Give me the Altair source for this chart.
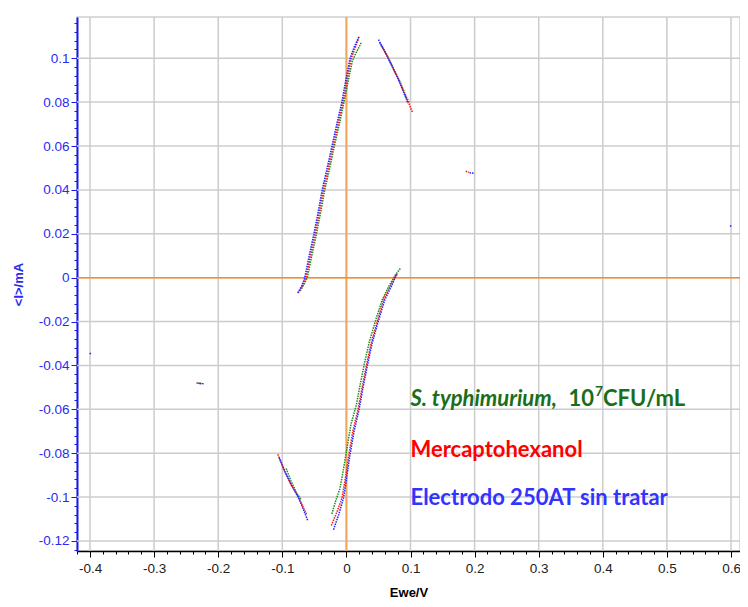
import altair as alt
import pandas as pd

# ---------------- data ----------------
# Blue: Electrodo 250AT sin tratar
blue_up_x = [-0.076, -0.070, -0.065, -0.058, -0.051, -0.044, -0.038, -0.030, -0.0227, -0.015, -0.0073, -0.001, 0.0057, 0.012, 0.019]
blue_up_y = [-0.007, -0.004, 0.000, 0.010, 0.0195, 0.030, 0.0397, 0.050, 0.0597, 0.070, 0.0797, 0.090, 0.0999, 0.105, 0.1095]
blue_dn_x = [0.050, 0.060, 0.070, 0.080, 0.090, 0.096]
blue_dn_y = [0.1085, 0.103, 0.097, 0.091, 0.084, 0.0795]
blue_lo_x = [-0.0201, -0.012, -0.0046, 0.000, 0.0057, 0.012, 0.0196, 0.026, 0.0325, 0.040, 0.0495, 0.060, 0.070, 0.078]
blue_lo_y = [-0.1149, -0.108, -0.1005, -0.092, -0.0805, -0.070, -0.0603, -0.050, -0.0403, -0.030, -0.0201, -0.010, -0.004, 0.0014]
blue_left_x = [-0.105, -0.095, -0.085, -0.075, -0.068, -0.060]
blue_left_y = [-0.082, -0.089, -0.095, -0.100, -0.105, -0.111]
blue_pts_x = [[0.192, 0.200], [-0.229, -0.222], [-0.400, -0.399], [0.599, 0.600]]
blue_pts_y = [[0.0478, 0.0475], [-0.0482, -0.0484], [-0.0343, -0.0350], [0.0232, 0.0238]]

# Red: Mercaptohexanol
red_up_x = [-0.075, -0.069, -0.063, -0.056, -0.049, -0.042, -0.036, -0.028, -0.0207, -0.013, -0.0055, 0.001, 0.0075, 0.014, 0.020]
red_up_y = [-0.007, -0.004, 0.000, 0.010, 0.0195, 0.030, 0.0397, 0.050, 0.0597, 0.070, 0.0797, 0.090, 0.0999, 0.105, 0.1100]
red_dn_x = [0.052, 0.062, 0.072, 0.082, 0.092, 0.098, 0.103]
red_dn_y = [0.107, 0.102, 0.096, 0.090, 0.083, 0.079, 0.0753]
red_lo_x = [-0.0237, -0.015, -0.007, -0.002, 0.004, 0.010, 0.018, 0.0245, 0.031, 0.0385, 0.048, 0.058, 0.068, 0.080]
red_lo_y = [-0.113, -0.107, -0.1005, -0.092, -0.0805, -0.070, -0.0603, -0.050, -0.0403, -0.030, -0.0201, -0.010, -0.004, 0.002]
red_left_x = [-0.107, -0.097, -0.087, -0.077, -0.070, -0.062]
red_left_y = [-0.0805, -0.088, -0.094, -0.099, -0.103, -0.108]
red_pts_x = [[0.186, 0.191], [-0.234, -0.228]]
red_pts_y = [[0.0485, 0.0480], [-0.0480, -0.0482]]

# Green: S. typhimurium, 10^7 CFU/mL
green_up_x = [-0.072, -0.066, -0.061, -0.054, -0.047, -0.040, -0.034, -0.026, -0.0190, -0.011, -0.0040, 0.003, 0.0095, 0.016, 0.023]
green_up_y = [-0.006, -0.003, 0.000, 0.010, 0.0195, 0.030, 0.0397, 0.050, 0.0597, 0.070, 0.0797, 0.090, 0.0990, 0.103, 0.1070]
green_dn_x = [0.054, 0.064, 0.074, 0.084, 0.094, 0.098]
green_dn_y = [0.106, 0.101, 0.095, 0.089, 0.082, 0.080]
green_lo_x = [-0.0227, -0.017, -0.010, -0.005, 0.001, 0.007, 0.0155, 0.022, 0.0285, 0.036, 0.046, 0.056, 0.066, 0.076, 0.085]
green_lo_y = [-0.1077, -0.102, -0.096, -0.088, -0.0775, -0.067, -0.0580, -0.048, -0.0385, -0.029, -0.0190, -0.010, -0.004, 0.001, 0.0045]
green_left_x = [-0.094, -0.086, -0.078, -0.071]
green_left_y = [-0.087, -0.093, -0.098, -0.101]
green_pts_x = [[-0.232, -0.226]]
green_pts_y = [[-0.0481, -0.0483]]

S_GREEN = "S. typhimurium, 10^7 CFU/mL"
S_RED = "Mercaptohexanol"
S_BLUE = "Electrodo 250AT sin tratar"

x_ticks = [-0.4, -0.3, -0.2, -0.1, 0, 0.1, 0.2, 0.3, 0.4, 0.5, 0.6]
y_ticks = [-0.12, -0.1, -0.08, -0.06, -0.04, -0.02, 0, 0.02, 0.04, 0.06, 0.08, 0.1]
x_minor = [round(-0.42 + 0.02 * i, 2) for i in range(52)]
y_minor = [round(-0.124 + 0.004 * i, 3) for i in range(61)]

# ---------------- build table ----------------
rows = []
def add(series, order, segs):
    for k, (xs, ys) in enumerate(segs):
        for i, (xx, yy) in enumerate(zip(xs, ys)):
            rows.append({"x": xx, "y": yy, "series": series, "seg": f"{series}-{k}", "o": order, "i": i})

add(S_GREEN, 0, [(green_up_x, green_up_y), (green_dn_x, green_dn_y), (green_lo_x, green_lo_y),
                 (green_left_x, green_left_y)] + list(zip(green_pts_x, green_pts_y)))
add(S_RED, 1, [(red_up_x, red_up_y), (red_dn_x, red_dn_y), (red_lo_x, red_lo_y),
               (red_left_x, red_left_y)] + list(zip(red_pts_x, red_pts_y)))
add(S_BLUE, 2, [(blue_up_x, blue_up_y), (blue_dn_x, blue_dn_y), (blue_lo_x, blue_lo_y),
                (blue_left_x, blue_left_y)] + list(zip(blue_pts_x, blue_pts_y)))
df = pd.DataFrame(rows)

X_DOM = [-0.4203, 0.614]
Y_DOM = [-0.1246, 0.1188]
xscale = alt.Scale(domain=X_DOM, nice=False, zero=False)
yscale = alt.Scale(domain=Y_DOM, nice=False, zero=False)

label_expr = "toString(datum.value)"

x_axis = alt.Axis(values=x_ticks, labelExpr=label_expr, title="Ewe/V", labelFont="Liberation Sans",
                  labelFontSize=13.5, labelColor="#222222", tickColor="#000000", domainColor="#000000",
                  domainWidth=1.5, tickSize=6, tickWidth=1, labelPadding=4, titleFont="Liberation Sans",
                  titleFontSize=13, titleFontWeight="bold", titleColor="#000000", titlePadding=12,
                  grid=False, labelFlush=False)
y_axis = alt.Axis(values=y_ticks, labelExpr=label_expr, title="<I>/mA", labelFont="Liberation Sans",
                  labelFontSize=13.5, labelColor="#2b2bf0", tickColor="#1a1aee", domainColor="#1a1aee",
                  domainWidth=2, tickSize=6, tickWidth=1, labelPadding=2, titleFont="Liberation Sans",
                  titleFontSize=13, titleFontWeight="bold", titleColor="#2b2bf0", titlePadding=13,
                  grid=False, labelFlush=False)

color_scale = alt.Scale(domain=[S_GREEN, S_RED, S_BLUE], range=["#1f8a1f", "#ff1a1a", "#2222ff"])

# grid lines drawn from the tick arrays
grid_x = alt.Chart(pd.DataFrame({"x": x_ticks})).mark_rule(color="#cccccc", strokeWidth=1.5).encode(
    x=alt.X("x:Q", scale=xscale, axis=None))
grid_y = alt.Chart(pd.DataFrame({"y": y_ticks})).mark_rule(color="#cccccc", strokeWidth=1.5).encode(
    y=alt.Y("y:Q", scale=yscale, axis=None))

curves = alt.Chart(df).mark_line(strokeWidth=1.5, strokeDash=[1.5, 1], clip=True).encode(
    x=alt.X("x:Q", scale=xscale, axis=x_axis),
    y=alt.Y("y:Q", scale=yscale, axis=y_axis),
    color=alt.Color("series:N", scale=color_scale, legend=None),
    detail="seg:N",
    order="i:Q",
)

# minor ticks (axis layers without labels / grid)
minor_x = alt.Chart(pd.DataFrame({"x": x_minor})).mark_point(opacity=0).encode(
    x=alt.X("x:Q", scale=xscale, axis=alt.Axis(values=x_minor, labels=False, grid=False, domain=False,
                                                  tickSize=3, tickColor="#000000", title=None, orient="bottom")))
minor_y = alt.Chart(pd.DataFrame({"y": y_minor})).mark_point(opacity=0).encode(
    y=alt.Y("y:Q", scale=yscale, axis=alt.Axis(values=y_minor, labels=False, grid=False, domain=False,
                                                  tickSize=3, tickColor="#1a1aee", title=None, orient="left")))

zero_v = alt.Chart().mark_rule(color="#f2a65a", strokeWidth=2).encode(
    x=alt.X(datum=0, scale=xscale, axis=None))
zero_h = alt.Chart().mark_rule(color="#ff8c1a", strokeWidth=1.5).encode(
    y=alt.Y(datum=0, scale=yscale, axis=None))

def label(text, xv, yv, color, italic=False, size=22):
    return alt.Chart().mark_text(text=text, align="left", baseline="middle", font="Lato",
                                 fontSize=size, fontWeight="bold", color=color,
                                 fontStyle="italic" if italic else "normal").encode(
        x=alt.X(datum=xv, scale=xscale, axis=None), y=alt.Y(datum=yv, scale=yscale, axis=None))

t1 = label("S. typhimurium,", 0.1, -0.0555, "#1a6e1a", italic=True)
t2 = label("10", 0.3465, -0.0555, "#1a6e1a")
t3 = label("7", 0.3878, -0.0522, "#1a6e1a", size=14)
t4 = label("CFU/mL", 0.4003, -0.0555, "#1a6e1a")
t5 = label("Mercaptohexanol", 0.1, -0.0785, "#ff0000")
t6 = label("Electrodo 250AT sin tratar", 0.1, -0.1005, "#3333ff")

chart = alt.layer(
    grid_x, grid_y, zero_v, zero_h, curves, minor_x, minor_y, t1, t2, t3, t4, t5, t6
).resolve_axis(x="independent", y="independent").properties(
    width=663, height=534,
    autosize=alt.AutoSizeParams(type="none"),
    padding={"left": 69, "top": 9, "right": 0, "bottom": 48},
).configure_view(stroke="#d0d0d0", strokeWidth=1.5)

chart.save("out.html", embed_options={"renderer": "svg", "actions": False})
